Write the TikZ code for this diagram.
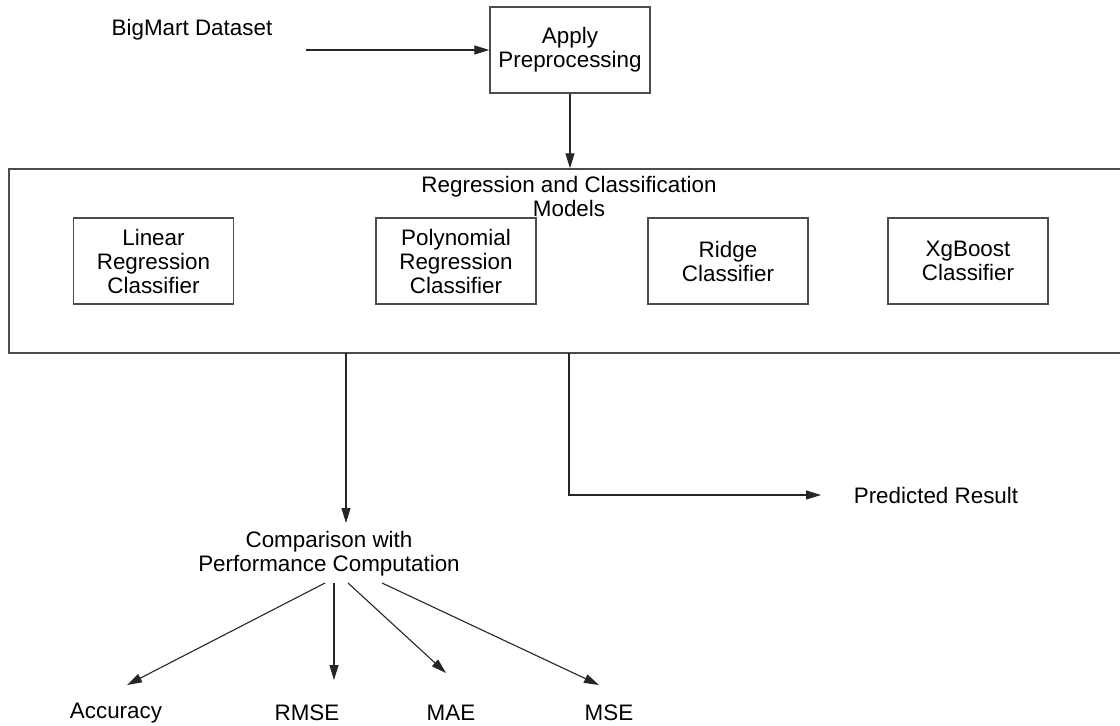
\documentclass[tikz,border=0pt]{standalone}
\usepackage{fontspec}
\setmainfont{Liberation Sans}
\usetikzlibrary{arrows.meta}
\begin{document}
\begin{tikzpicture}[x=1pt,y=-1pt,
  every node/.style={font=\fontsize{22.4}{24}\selectfont, align=center},
  box/.style={draw=black!70, line width=1.4pt, minimum width=160pt, minimum height=86pt, inner sep=0pt},
  lbl/.style={inner sep=0pt},
  arr/.style={draw=black!85, line width=1.1pt, -{Triangle[length=15pt,width=9pt]}},
  ln/.style={draw=black!85, line width=1.1pt}]
\clip (0,0) rectangle (1120,726);
\fill[white] (0,0) rectangle (1120,726);
% top
\node[lbl] (data) at (192,30) {BigMart Dataset};
\coordinate (ds) at (306,50);
\node[box] (pre) at (570,50) {Apply\\Preprocessing};
\draw[arr] (ds) -- (pre.west);
% models container
\node[draw=black!70, line width=1.4pt, minimum width=1121pt, minimum height=184pt, inner sep=0pt] (models) at (569.5,261) {};
\node[lbl] (mtitle) at (569,196) {Regression and Classification\\Models};
\draw[arr] (pre.south) -- (pre.south |- models.north);
\node[box] (lin) at (153.5,261) {Linear\\Regression\\Classifier};
\node[box] (poly) at (456,261) {Polynomial\\Regression\\Classifier};
\node[box] (ridge) at (728,261) {Ridge\\Classifier};
\node[box] (xgb) at (968,261) {XgBoost\\Classifier};
% outputs
\node[lbl] (comp) at (329,554) {Comparison with\\Performance Computation};
\coordinate (c1) at (346,353);
\coordinate (c1end) at (346,523);
\draw[arr] (c1) -- (c1end);
\node[lbl] (pred) at (936,495) {Predicted Result};
\coordinate (c2) at (569,353);
\coordinate (c2end) at (821,495);
\draw[arr] (c2) |- (c2end);
% metrics
\node[lbl] (acc) at (116,713) {Accuracy};
\node[lbl] (rmse) at (307,713) {RMSE};
\node[lbl] (mae) at (451,713) {MAE};
\node[lbl] (mse) at (609,713) {MSE};
\coordinate (s1) at (325,583);
\coordinate (s2) at (334,583);
\coordinate (s3) at (348,583);
\coordinate (s4) at (382,583);
\coordinate (t1) at (127,685);
\coordinate (t2) at (334,680);
\coordinate (t3) at (446,673);
\coordinate (t4) at (599,685);
\draw[arr] (s1) -- (t1);
\draw[arr] (s2) -- (t2);
\draw[arr] (s3) -- (t3);
\draw[arr] (s4) -- (t4);
\end{tikzpicture}
\end{document}
